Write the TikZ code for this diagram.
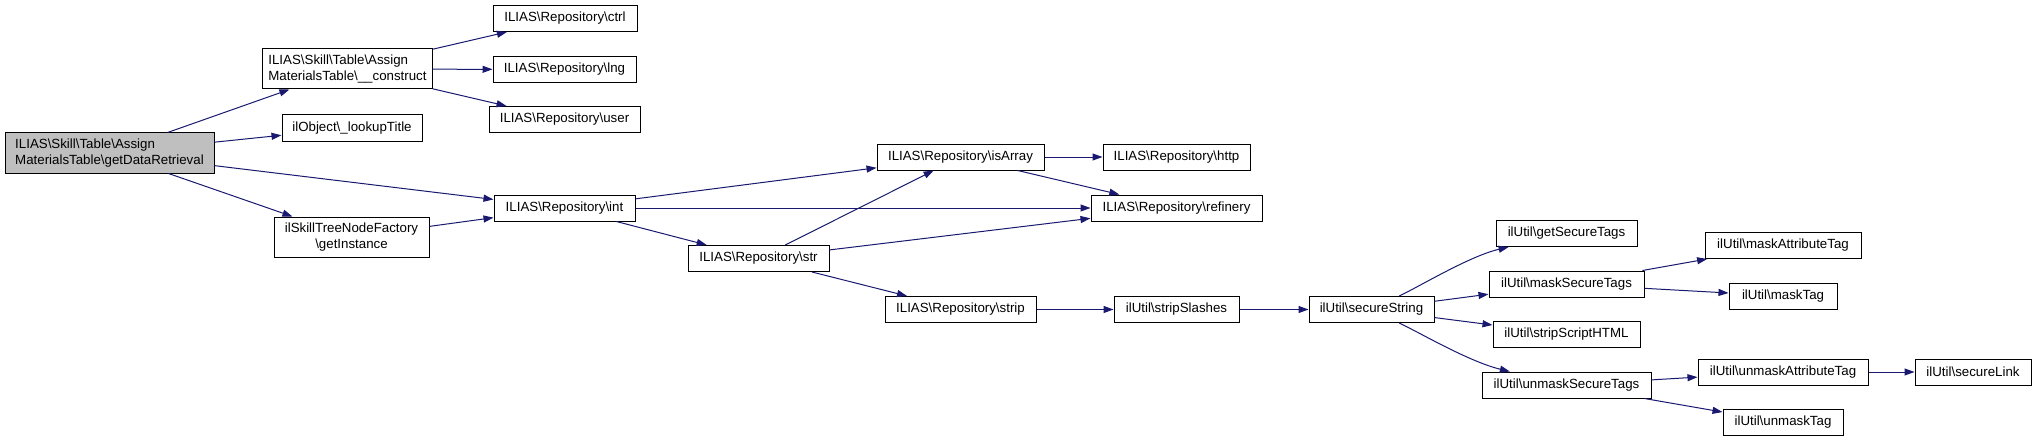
\documentclass[tikz,border=0pt]{standalone}
\usepackage{fontspec}
\setmainfont{Liberation Sans}
\usetikzlibrary{arrows.meta}
\definecolor{edgeblue}{RGB}{25,25,112}
\definecolor{boxgray}{RGB}{191,191,191}
\newcommand{\bsl}{\textbackslash}

\begin{document}
\begin{tikzpicture}[x=1pt, y=-1pt,
	fn/.style={draw=black, line width=1pt, rectangle, inner sep=0pt, minimum height=26pt, font=\fontsize{13.3}{16}\selectfont},
	fntwo/.style={fn, minimum height=40pt},
	call/.style={draw=edgeblue, line width=1pt, -{Triangle[length=10pt,width=7pt]}}]
			%%%%% START %%%%%
			\useasboundingbox (0, 0) rectangle (2036, 441);
			
			\node[fntwo, fill=boxgray, align=left, minimum width=209] (gdr) at (109.5, 153) {ILIAS\bsl Skill\bsl Table\bsl Assign\\MaterialsTable\bsl getDataRetrieval};
			
			\node[fntwo, align=left, minimum width=170] (construct) at (347.5, 69) {ILIAS\bsl Skill\bsl Table\bsl Assign\\MaterialsTable\bsl \_\_construct};
			\node[fn, minimum width=140] (lookup) at (352, 128) {ilObject\bsl \_lookupTitle};
			\node[fntwo, align=center, minimum width=155] (factory) at (351.5, 237) {ilSkillTreeNodeFactory\\\bsl getInstance};
			
			\node[fn, minimum width=144] (ctrl) at (565, 18.5) {ILIAS\bsl Repository\bsl ctrl};
			\node[fn, minimum width=143] (lng) at (564.5, 69.5) {ILIAS\bsl Repository\bsl lng};
			\node[fn, minimum width=151] (user) at (564.5, 119.5) {ILIAS\bsl Repository\bsl user};
			\node[fn, minimum width=141] (int) at (564.5, 208) {ILIAS\bsl Repository\bsl int};
			
			\node[fn, minimum width=141] (str) at (758.5, 258.5) {ILIAS\bsl Repository\bsl str};
			
			\node[fn, minimum width=167] (isarray) at (960.5, 157) {ILIAS\bsl Repository\bsl isArray};
			\node[fn, minimum width=151] (strip) at (960.5, 309.5) {ILIAS\bsl Repository\bsl strip};
			
			\node[fn, minimum width=147] (http) at (1176.5, 157) {ILIAS\bsl Repository\bsl http};
			\node[fn, minimum width=171] (refinery) at (1176.5, 208) {ILIAS\bsl Repository\bsl refinery};
			\node[fn, minimum width=125] (stripslashes) at (1176.5, 309.5) {ilUtil\bsl stripSlashes};
			
			\node[fn, minimum width=125] (securestring) at (1371.5, 309.5) {ilUtil\bsl secureString};
			
			\node[fn, minimum width=141] (getsecure) at (1566.5, 233.5) {ilUtil\bsl getSecureTags};
			\node[fn, minimum width=155] (masksecure) at (1566.5, 284) {ilUtil\bsl maskSecureTags};
			\node[fn, minimum width=147] (stripscript) at (1566.5, 334.5) {ilUtil\bsl stripScriptHTML};
			\node[fn, minimum width=169] (unmasksecure) at (1566.5, 385) {ilUtil\bsl unmaskSecureTags};
			
			\node[fn, minimum width=156] (maskattr) at (1783, 245.5) {ilUtil\bsl maskAttributeTag};
			\node[fn, minimum width=108] (masktag) at (1783, 296) {ilUtil\bsl maskTag};
			\node[fn, minimum width=170] (unmaskattr) at (1783, 372) {ilUtil\bsl unmaskAttributeTag};
			\node[fn, minimum width=120] (unmasktag) at (1783, 422.5) {ilUtil\bsl unmaskTag};
			
			\node[fn, minimum width=116] (securelink) at (1973, 372) {ilUtil\bsl secureLink};
			
			\draw[call] (gdr) -- (construct);
			\draw[call] (gdr) -- (lookup);
			\draw[call] (gdr) -- (int);
			\draw[call] (gdr) -- (factory);
			
			\draw[call] (construct) -- (ctrl);
			\draw[call] (construct) -- (lng);
			\draw[call] (construct) -- (user);
			\draw[call] (factory) -- (int);
			
			\draw[call] (int) -- (isarray);
			\draw[call] (int) -- (refinery);
			\draw[call] (int) -- (str);
			\draw[call] (str) -- (isarray);
			\draw[call] (str) -- (refinery);
			\draw[call] (str) -- (strip);
			\draw[call] (isarray) -- (http);
			\draw[call] (isarray) -- (refinery);
			
			\draw[call] (strip) -- (stripslashes);
			\draw[call] (stripslashes) -- (securestring);
			\draw[call] (securestring) .. controls (1422, 285) and (1470, 256) .. (getsecure);
			\draw[call] (securestring) -- (masksecure);
			\draw[call] (securestring) -- (stripscript);
			\draw[call] (securestring) .. controls (1422, 334) and (1470, 362) .. (unmasksecure);
			
			\draw[call] (masksecure) -- (maskattr);
			\draw[call] (masksecure) -- (masktag);
			\draw[call] (unmasksecure) -- (unmaskattr);
			\draw[call] (unmasksecure) -- (unmasktag);
			\draw[call] (unmaskattr) -- (securelink);
			%%%%% END %%%%%
		\end{tikzpicture}
\end{document}
